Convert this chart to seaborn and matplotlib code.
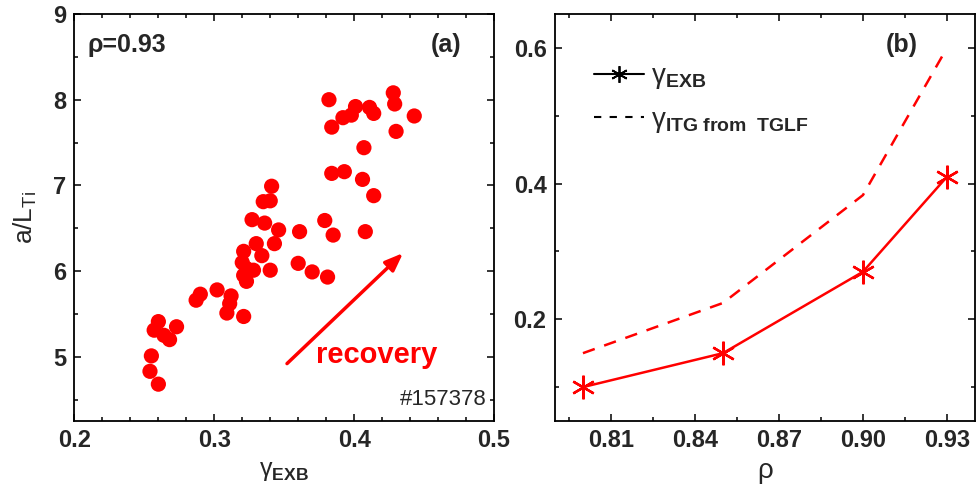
import matplotlib
matplotlib.use("Agg")
import matplotlib.pyplot as plt
import seaborn as sns
import numpy as np
import pandas as pd
from matplotlib.lines import Line2D
from matplotlib.ticker import MultipleLocator, FormatStrFormatter

# ---------------- data ----------------
gamma_exb_scatter = [0.382, 0.428, 0.429, 0.401, 0.411, 0.414, 0.392, 0.398, 0.384, 0.443,
                     0.430, 0.407, 0.384, 0.393, 0.406, 0.414, 0.379, 0.361, 0.385, 0.408,
                     0.360, 0.370, 0.381, 0.341, 0.335, 0.340, 0.327, 0.336, 0.346, 0.330,
                     0.343, 0.321, 0.334, 0.320, 0.340, 0.323, 0.328, 0.321, 0.323, 0.302,
                     0.290, 0.287, 0.312, 0.311, 0.309, 0.321, 0.260, 0.273, 0.257, 0.264,
                     0.268, 0.255, 0.254, 0.260]
a_LTi = [8.00, 8.08, 7.95, 7.92, 7.91, 7.84, 7.79, 7.82, 7.68, 7.81,
         7.63, 7.44, 7.14, 7.16, 7.07, 6.88, 6.59, 6.46, 6.42, 6.46,
         6.09, 5.99, 5.93, 6.99, 6.81, 6.82, 6.60, 6.56, 6.48, 6.32,
         6.32, 6.23, 6.18, 6.10, 6.01, 6.03, 6.01, 5.95, 5.88, 5.78,
         5.73, 5.66, 5.71, 5.62, 5.51, 5.47, 5.41, 5.35, 5.31, 5.25,
         5.20, 5.01, 4.83, 4.68]

rho = [0.80, 0.85, 0.90, 0.93]
gamma_exb = [0.10, 0.15, 0.27, 0.41]
gamma_itg = [0.15, 0.224, 0.383, 0.60]

left_xticks = [0.2, 0.3, 0.4, 0.5]
left_yticks = [5, 6, 7, 8, 9]
right_xticks = [0.81, 0.84, 0.87, 0.90, 0.93]
right_yticks = [0.2, 0.4, 0.6]

arrow_start = (0.352, 4.92)
arrow_end = (0.435, 6.21)

# ---------------- style ----------------
sns.set_theme(style="ticks")
plt.rcParams['font.family'] = ['Liberation Sans', 'DejaVu Sans']
plt.rcParams['mathtext.fontset'] = 'custom'
plt.rcParams['mathtext.rm'] = 'Liberation Sans'
plt.rcParams['mathtext.bf'] = 'Liberation Sans:bold'
plt.rcParams['mathtext.it'] = 'Liberation Sans:italic'

fig = plt.figure(figsize=(9.76, 4.97), dpi=100)
ax1 = fig.add_axes([0.0763, 0.1529, 0.4298, 0.8189])
ax2 = fig.add_axes([0.5686, 0.1529, 0.4303, 0.8189])

red = '#ff0000'

# ---- panel (a)
df_a = pd.DataFrame({'g': gamma_exb_scatter, 'a': a_LTi})
sns.scatterplot(data=df_a, x='g', y='a', ax=ax1, color=red, s=120, edgecolor='none', legend=False)
ax1.set_xlim(0.2, 0.5)
ax1.set_ylim(4.25, 9)
ax1.set_xticks(left_xticks)
ax1.set_yticks(left_yticks)
ax1.xaxis.set_minor_locator(MultipleLocator(0.02))
ax1.yaxis.set_minor_locator(MultipleLocator(0.5))
ax1.xaxis.set_major_formatter(FormatStrFormatter('%.1f'))
ax1.set_xlabel('γ$_{\\mathbf{EXB}}$', fontsize=18, labelpad=5)
ax1.set_ylabel('a/L$_{\\mathrm{Ti}}$', fontsize=19, labelpad=10)
ax1.annotate('', xy=arrow_end, xytext=arrow_start,
             arrowprops=dict(arrowstyle='-|>,head_length=0.9,head_width=0.35', color=red, lw=2.5,
                             shrinkA=0, shrinkB=0))
ax1.text(0.032, 0.924, 'ρ=0.93', transform=ax1.transAxes, fontsize=18, fontweight='bold',
         ha='left', va='center')
ax1.text(0.886, 0.924, '(a)', transform=ax1.transAxes, fontsize=18, fontweight='bold',
         ha='center', va='center')
ax1.text(0.721, 0.162, 'recovery', transform=ax1.transAxes, fontsize=21, fontweight='bold',
         color=red, ha='center', va='center')
ax1.text(0.983, 0.054, '#157378', transform=ax1.transAxes, fontsize=16,
         ha='right', va='center')

# ---- panel (b)
df_b = pd.DataFrame({'rho': rho, 'exb': gamma_exb, 'itg': gamma_itg})
sns.lineplot(data=df_b, x='rho', y='exb', ax=ax2, color=red, lw=1.8,
             marker=(6, 2, 0), markersize=17, markeredgewidth=1.7, markeredgecolor=red)
sns.lineplot(data=df_b, x='rho', y='itg', ax=ax2, color=red, lw=1.8, linestyle=(0, (5, 4)))
ax2.set_xlim(0.79, 0.94)
ax2.set_ylim(0.05, 0.65)
ax2.set_xticks(right_xticks)
ax2.set_yticks(right_yticks)
ax2.xaxis.set_minor_locator(MultipleLocator(0.015))
ax2.yaxis.set_minor_locator(MultipleLocator(0.1))
ax2.xaxis.set_major_formatter(FormatStrFormatter('%.2f'))
ax2.yaxis.set_major_formatter(FormatStrFormatter('%.1f'))
ax2.set_xlabel('ρ', fontsize=20, labelpad=4)
ax2.set_ylabel('')
ax2.text(0.826, 0.924, '(b)', transform=ax2.transAxes, fontsize=18, fontweight='bold',
         ha='center', va='center')

handles = [Line2D([], [], color='black', lw=1.5, marker=(6, 2, 0), markersize=12,
                  markeredgewidth=1.3),
           Line2D([], [], color='black', lw=1.5, linestyle=(0, (3.5, 4)))]
labels = ['γ$_{\\mathbf{EXB}}$', 'γ$_{\\mathbf{ITG}\\ \\mathbf{from\\ \\ TGLF}}$']
ax2.legend(handles, labels, loc='upper left', bbox_to_anchor=(0.053, 0.92), frameon=False,
           fontsize=20, handlelength=1.8, handletextpad=0.25, labelspacing=0.55,
           borderaxespad=0.2)

for ax in (ax1, ax2):
    for sp in ax.spines.values():
        sp.set_linewidth(1.3)
        sp.set_color('black')
    ax.tick_params(which='both', direction='in', top=True, right=True, color='black',
                   width=1.1)
    ax.tick_params(which='major', length=5, labelsize=17, pad=6)
    ax.tick_params(which='minor', length=3)
    for lab in ax.get_xticklabels() + ax.get_yticklabels():
        lab.set_fontweight('bold')

fig.savefig('out.png', dpi=100)
